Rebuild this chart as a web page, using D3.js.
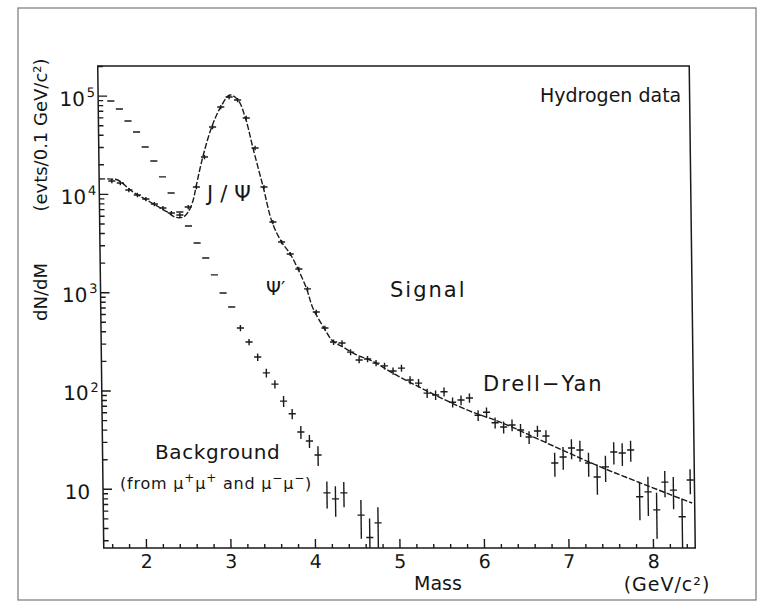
<!DOCTYPE html>
<html lang="en">
<head>
<meta charset="UTF-8">
<title>Dimuon mass spectrum - Hydrogen data</title>
<script src="https://d3js.org/d3.v7.min.js"></script>
<style>
  body { margin: 0; background: #fff; }
  svg { display: block; font-family: "DejaVu Sans", sans-serif; }
  text { fill: #151515; }
  .tick line { stroke: #1a1a1a; stroke-width: 1.4; }
  .frame { fill: none; stroke: #1a1a1a; stroke-width: 1.5; }
  .err { stroke: #1a1a1a; stroke-width: 1.4; }
  .fit { fill: none; stroke: #1a1a1a; stroke-width: 1.4; stroke-dasharray: 6 2; }
</style>
</head>
<body>
<svg width="769" height="606"></svg>
<script>
// signal (hydrogen data), 0.1 GeV bins
const signalMass = [
  1.65, 1.75, 1.85, 1.95, 2.05, 2.15, 2.25, 2.35, 2.45,
  2.55, 2.65, 2.75, 2.85, 2.95, 3.05, 3.15, 3.25, 3.35, 3.45,
  3.55, 3.65, 3.75, 3.85, 3.95, 4.05, 4.15, 4.25, 4.35, 4.45,
  4.55, 4.65, 4.75, 4.85, 4.95, 5.05, 5.15, 5.25, 5.35, 5.45,
  5.55, 5.65, 5.75, 5.85, 5.95, 6.05, 6.15, 6.25, 6.35, 6.45,
  6.55, 6.65, 6.75, 6.85, 6.95, 7.05, 7.15, 7.25, 7.35, 7.45,
  7.55, 7.65, 7.75, 7.85, 7.95, 8.05, 8.15, 8.25, 8.35, 8.45
];
const signalCounts = [
  13530, 12910, 10960, 9750, 8870, 7890, 7190, 6390, 6100,
  7360, 11750, 23700, 47900, 76600, 96800, 90200, 59200, 29300, 11750,
  5180, 3240, 2450, 1720, 1080, 629, 432, 311, 304, 246,
  204, 209, 190, 178, 158, 169, 128, 119, 94, 90,
  97, 76, 80, 84, 56, 60, 47, 42.5, 44.6, 39.6,
  33.6, 38.7, 34.4, 18.3, 21.1, 26.0, 24.8, 18.3, 13.2, 16.7,
  23.7, 23.1, 24.8, 8.3, 9.3, 6.1, 11.7, 9.7, 5.2, 12.3
];
const signalErrors = [
  700, 650, 550, 500, 450, 400, 360, 320, 300,
  370, 600, 1200, 2400, 3800, 4800, 4500, 3000, 1500, 600,
  260, 160, 120, 90, 55, 35, 25, 20, 20, 17,
  15, 15, 14, 14, 13, 14, 12, 12, 10, 10,
  10, 9, 9, 9, 7, 7, 6, 6, 6, 6,
  5, 5, 5, 5, 5.5, 6, 6, 5, 4.5, 5,
  6, 6, 6, 3.5, 4, 3, 3.5, 3.5, 2.7, 3.5
];

// like-sign background (mu+mu+ and mu-mu-)
const bgMass = [
  1.65, 1.75, 1.85, 1.95, 2.05, 2.15, 2.25, 2.35, 2.45, 2.55,
  2.65, 2.75, 2.85, 2.95, 3.05, 3.15, 3.25, 3.35, 3.45, 3.55,
  3.65, 3.75, 3.85, 3.95, 4.05, 4.15, 4.25, 4.35, 4.55, 4.65, 4.75
];
const bgCounts = [
  88100, 73100, 55200, 42600, 30000, 21600, 14900, 10200, 6550, 4710,
  3170, 2230, 1500, 982, 707, 432, 311, 219, 151, 116,
  78, 58, 37.8, 30.6, 22.1, 9.1, 7.9, 9.1, 5.4, 3.2, 4.5
];
const bgErrors = [
  0, 0, 0, 0, 0, 0, 0, 0, 0, 0,
  0, 0, 0, 0, 0, 32, 23, 19, 15, 11,
  10, 7, 5.7, 4.6, 5, 2.8, 2.7, 2.6, 2.3, 1.8, 2.0
];

// fitted curve (J/psi + psi' + Drell-Yan)
const fitMass = [
  1.50, 1.65, 1.72, 1.90, 2.10, 2.30, 2.39, 2.49, 2.55, 2.61,
  2.645, 2.73, 2.84, 2.95, 3.06, 3.155, 3.24, 3.325, 3.44, 3.54,
  3.65, 3.75, 3.84, 3.94, 4.01, 4.14, 4.24, 4.36, 4.52, 4.68,
  5.03, 5.82, 6.21, 6.76, 7.39, 8.47
];
const fitCounts = [
  14200, 14150, 13850, 10450, 8270, 6550, 5820, 5820, 6550, 8670,
  11750, 23700, 47900, 76600, 101400, 90200, 59200, 29300, 11750, 5180,
  3240, 2450, 1720, 1080, 691, 432, 319, 277, 230, 204,
  137, 63.4, 47.8, 29.2, 16.7, 7.17
];

const xTickValues = [2, 3, 4, 5, 6, 7, 8];
const xTickLabels = ["2", "3", "4", "5", "6", "7", "8"];
const yTickValues = [10, 100, 1000, 10000, 100000];
const yTickExponents = ["", "2", "3", "4", "5"];

const svg = d3.select("svg");
const plot = { left: 103.75, right: 695.25, top: 66, bottom: 548 };
const skew = 0.0125; // the scanned frame leans slightly

const x = d3.scaleLinear().domain([1.5, 8.5]).range([plot.left, plot.right]);
const y = d3.scaleLog().domain([2.5, 2e5]).range([plot.bottom, plot.top]);

// page border
svg.append("rect")
  .attr("x", 18).attr("y", 8).attr("width", 738).attr("height", 592)
  .attr("fill", "none").attr("stroke", "#777").attr("stroke-width", 1.2);

const g = svg.append("g")
  .attr("transform", `matrix(1,0,${skew},1,${-skew * plot.bottom},0)`);

g.append("clipPath").attr("id", "clip")
  .append("rect")
  .attr("x", plot.left).attr("y", plot.top)
  .attr("width", plot.right - plot.left).attr("height", plot.bottom - plot.top);

// x axis ticks (inward)
const xMinor = d3.range(16, 85, 2).filter(d => d % 10 !== 0).map(d => d / 10);
g.append("g")
  .attr("transform", `translate(0,${plot.bottom})`)
  .call(d3.axisBottom(x).tickValues(xMinor).tickSize(-4).tickFormat(""))
  .call(a => a.select(".domain").remove());
g.append("g")
  .attr("transform", `translate(0,${plot.bottom})`)
  .call(d3.axisBottom(x).tickValues(xTickValues).tickSize(-9).tickPadding(7)
    .tickFormat((d, i) => xTickLabels[i]))
  .call(a => a.select(".domain").remove())
  .attr("font-family", "DejaVu Sans, sans-serif")
  .attr("font-size", 19);

// y axis ticks (inward)
const yMinor = y.ticks().filter(d => !yTickValues.includes(d) && d !== 1);
g.append("g")
  .attr("transform", `translate(${plot.left},0)`)
  .call(d3.axisLeft(y).tickValues(yMinor).tickSize(-5).tickFormat(""))
  .call(a => a.select(".domain").remove());
g.append("g")
  .attr("transform", `translate(${plot.left},0)`)
  .call(d3.axisLeft(y).tickValues(yTickValues).tickSize(-9).tickFormat(""))
  .call(a => a.select(".domain").remove());

g.append("g")
  .attr("font-size", 20)
  .attr("text-anchor", "end")
  .selectAll("text")
  .data(yTickValues)
  .join("text")
  .attr("x", (d, i) => yTickExponents[i] ? plot.left - 3 : plot.left - 13)
  .attr("y", d => y(d) + 10)
  .each(function(d, i) {
    const t = d3.select(this);
    t.append("tspan").text("10");
    if (yTickExponents[i]) {
      t.append("tspan").attr("dx", 2).attr("dy", -9).attr("font-size", 13)
        .text(yTickExponents[i]);
    }
  });

// frame
g.append("rect").attr("class", "frame")
  .attr("x", plot.left).attr("y", plot.top)
  .attr("width", plot.right - plot.left).attr("height", plot.bottom - plot.top);

const marks = g.append("g").attr("clip-path", "url(#clip)");

// fit curve
const fitData = fitMass.map((m, i) => ({ m, v: fitCounts[i] }));
marks.append("path")
  .datum(fitData)
  .attr("class", "fit")
  .attr("d", d3.line()
    .x(d => x(d.m))
    .y(d => y(d.v))
    .curve(d3.curveCatmullRom.alpha(0.5)));

// data points with error bars
function drawPoints(mass, counts, errors) {
  const data = mass.map((m, i) => ({ m, v: counts[i], e: errors[i] }));
  const grp = marks.append("g");
  grp.selectAll(".hbar").data(data).join("line")
    .attr("class", "err hbar")
    .attr("x1", d => x(d.m - 0.042)).attr("x2", d => x(d.m + 0.042))
    .attr("y1", d => y(d.v)).attr("y2", d => y(d.v));
  grp.selectAll(".vbar").data(data.filter(d => d.e > 0)).join("line")
    .attr("class", "err vbar")
    .attr("x1", d => x(d.m)).attr("x2", d => x(d.m))
    .attr("y1", d => y(Math.max(d.v - d.e, 1)))
    .attr("y2", d => y(d.v + d.e));
}
drawPoints(bgMass, bgCounts, bgErrors);
drawPoints(signalMass, signalCounts, signalErrors);

// annotations
const notes = svg.append("g");
notes.append("text").attr("x", 540).attr("y", 102).attr("font-size", 19)
  .text("Hydrogen data");
notes.append("text").attr("x", 207).attr("y", 201).attr("font-size", 21)
  .attr("letter-spacing", 7).text("J/Ψ");
notes.append("text").attr("x", 266).attr("y", 295).attr("font-size", 19)
  .text("Ψ′");
notes.append("text").attr("x", 390).attr("y", 297).attr("font-size", 21)
  .attr("letter-spacing", 2).text("Signal");
notes.append("text").attr("x", 483).attr("y", 391).attr("font-size", 21)
  .attr("letter-spacing", 2).text("Drell−Yan");
notes.append("text").attr("x", 155).attr("y", 459).attr("font-size", 20)
  .attr("letter-spacing", 0.6).text("Background");

// "(from mu+mu+ and mu-mu-)" with raised charge signs
const sub = notes.append("text").attr("x", 120).attr("y", 489)
  .attr("font-size", 16).attr("letter-spacing", 0.8);
[["(from μ", ""], ["+", "sup"], ["μ", ""], ["+", "sup"], [" and μ", ""],
 ["−", "sup"], ["μ", ""], ["−", "sup"], [")", ""]].forEach(([s, kind], i, arr) => {
  const prev = i > 0 ? arr[i - 1][1] : "";
  const ts = sub.append("tspan").text(s);
  if (kind === "sup") ts.attr("dy", -7).attr("font-size", 12);
  else if (prev === "sup") ts.attr("dy", 7);
});

// axis titles
svg.append("text").attr("x", 438).attr("y", 590).attr("font-size", 19)
  .attr("text-anchor", "middle").text("Mass");
svg.append("text").attr("x", 667).attr("y", 591).attr("font-size", 19)
  .attr("text-anchor", "middle").attr("letter-spacing", 1).text("(GeV/c²)");
svg.append("text").attr("transform", "translate(47,292) rotate(-90)")
  .attr("font-size", 18).attr("text-anchor", "middle").text("dN/dM");
svg.append("text").attr("transform", "translate(47,135) rotate(-90)")
  .attr("font-size", 18).attr("text-anchor", "middle").text("(evts/0.1 GeV/c²)");
</script>
</body>
</html>
